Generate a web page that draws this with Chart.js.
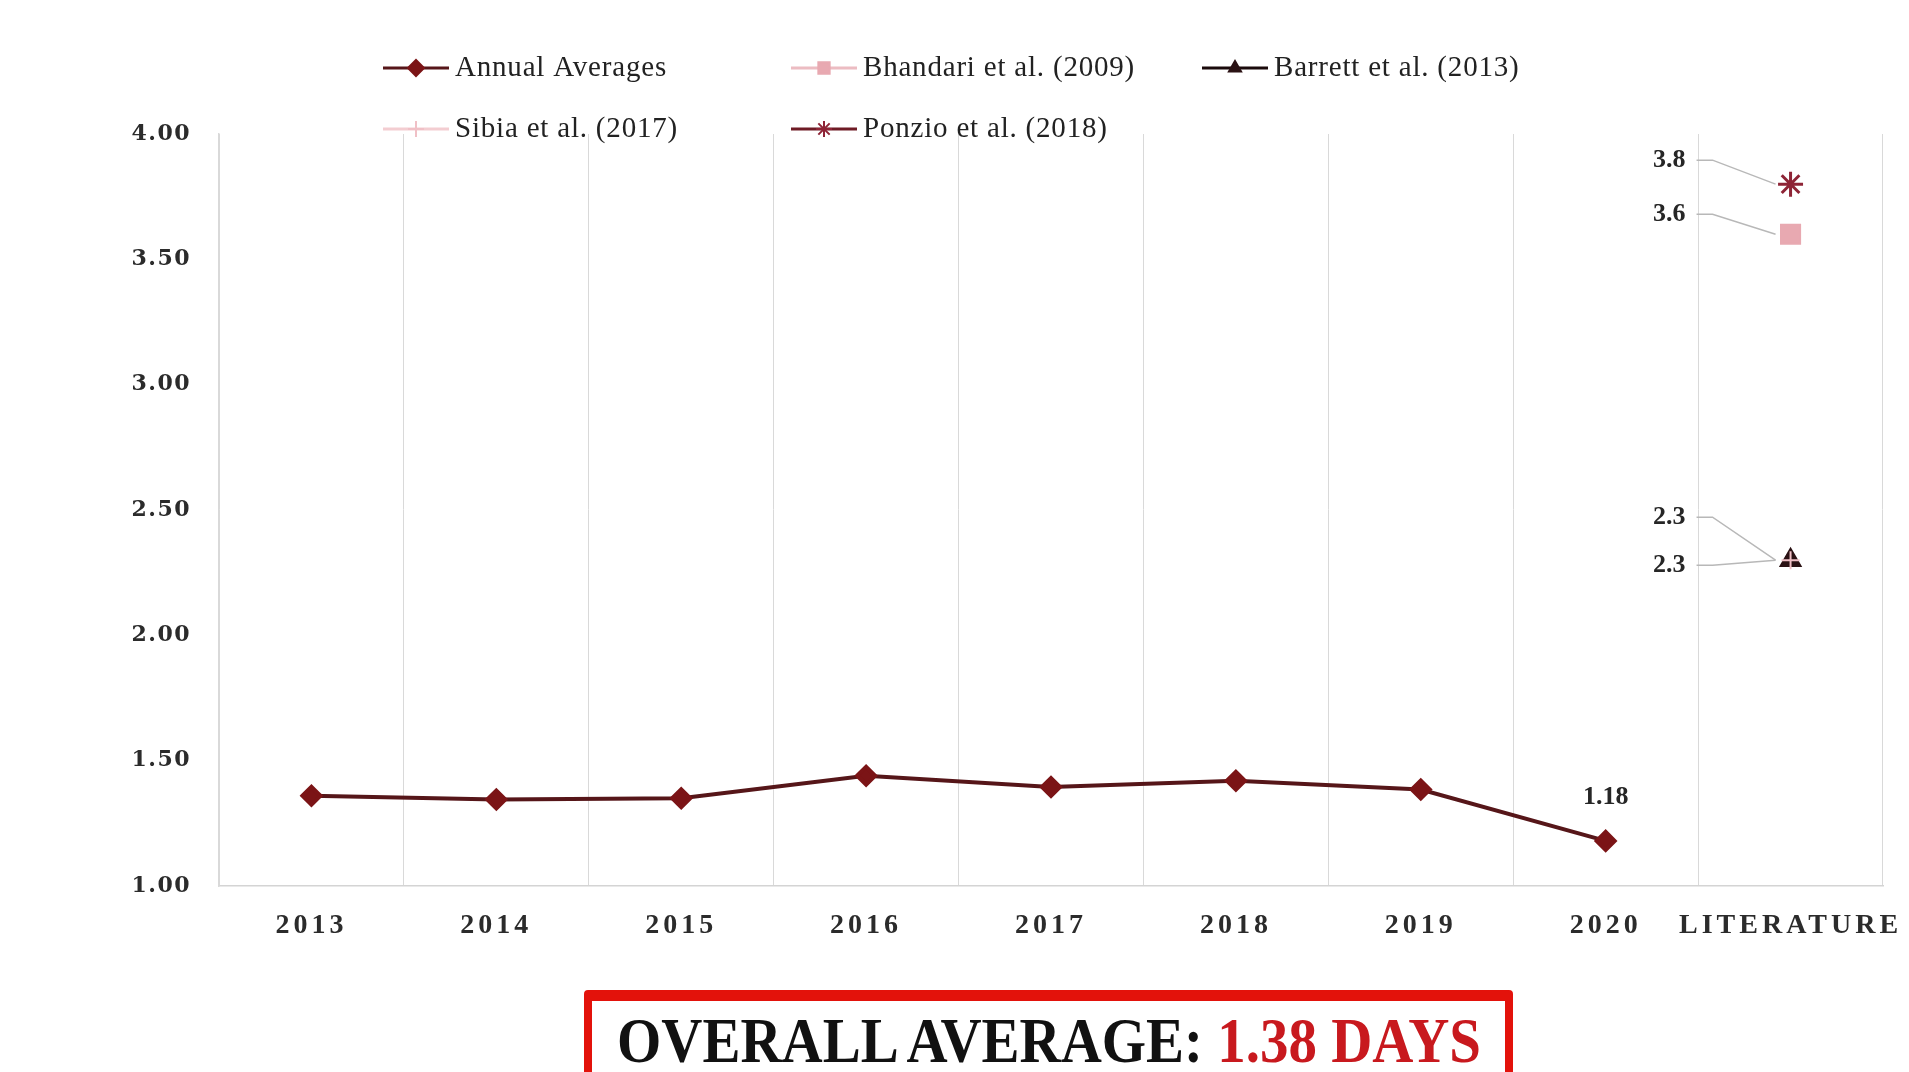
<!DOCTYPE html>
<html>
<head>
<meta charset="utf-8">
<script src="https://cdn.jsdelivr.net/npm/chart.js@4.4.1/dist/chart.umd.min.js"></script>
<style>
html, body { margin: 0; padding: 0; background: #fff; overflow: hidden; }
#wrap { position: relative; width: 1909px; height: 1072px; }
#avgBox {
    position: absolute; left: 584px; top: 990px; width: 929px; height: 110px;
    box-sizing: border-box; border: 8px solid #e3120b; border-top-width: 11px; border-radius: 4px;
}
#avgBox .txt {
    position: absolute; left: 50%; top: 8px; white-space: nowrap;
    transform: translateX(-50%) scaleX(0.89); transform-origin: center top;
    font-family: "Liberation Serif", serif; font-weight: bold; font-size: 64px; line-height: 1;
    color: #111;
}
#avgBox .txt span { color: #c8191e; }
</style>
</head>
<body>
<div id="wrap">
    <canvas id="daysChart" width="1909" height="1072"></canvas>
    <div id="avgBox"><div class="txt">OVERALL AVERAGE: <span>1.38 DAYS</span></div></div>
</div>
<script>
const categories = ['2013', '2014', '2015', '2016', '2017', '2018', '2019', '2020', 'LITERATURE'];
const annualAverages = [1.36, 1.345, 1.35, 1.44, 1.395, 1.42, 1.385, 1.18, null];
const literatureNames = ['Bhandari et al. (2009)', 'Barrett et al. (2013)', 'Sibia et al. (2017)', 'Ponzio et al. (2018)'];
const literatureValues = [3.6, 2.3, 2.3, 3.8];
const yTicks = [1.0, 1.5, 2.0, 2.5, 3.0, 3.5, 4.0];

// marker look for each literature series
const litStyles = [
    { color: '#e8a9b1', line: '#ecbcc2', pointStyle: 'rect', radius: 13.5, legendRadius: 8, width: 2, order: 0 },
    { color: '#2b1214', line: '#1a0a0b', pointStyle: 'triangle', radius: 11.5, legendRadius: 7, width: 2, order: 0 },
    { color: '#f0c0c6', line: '#f3cdd1', pointStyle: 'cross', radius: 9, legendRadius: 8, width: 2, order: -1 },
    { color: '#8e2436', line: '#6e1b25', pointStyle: 'star', radius: 12.5, legendRadius: 8, width: 3, order: 0 }
];
// where the value label sits relative to its point (dy only)
const labelShift = [-20, -43, 5, -24];

const litIndex = categories.length - 1;

const datasets = [{
    label: 'Annual Averages',
    data: annualAverages,
    borderColor: '#561619',
    backgroundColor: '#7b1416',
    pointBackgroundColor: '#7b1416',
    pointBorderColor: '#7b1416',
    pointStyle: 'rectRot',
    pointRadius: 9,
    pointHoverRadius: 9,
    borderWidth: 4,
    legendRadius: 8,
    lastLabel: true
}];

literatureNames.forEach((name, i) => {
    const s = litStyles[i];
    datasets.push({
        label: name,
        data: categories.map((c, j) => j === litIndex ? literatureValues[i] : null),
        borderColor: s.line,
        backgroundColor: s.color,
        pointBackgroundColor: s.color,
        pointBorderColor: s.color,
        pointStyle: s.pointStyle,
        pointRadius: s.radius,
        pointHoverRadius: s.radius,
        pointBorderWidth: s.width,
        showLine: false,
        borderWidth: 3,
        order: s.order,
        legendRadius: s.legendRadius,
        leaderDy: labelShift[i]
    });
});

const tickSpacing = {
    id: 'tickSpacing',
    beforeDraw(chart) {
        [['x', '4px'], ['y', '1.5px']].forEach(([id, sp]) => {
            const scale = chart.scales[id];
            if (!scale || scale._spaced) return;
            const orig = scale.drawLabels;
            scale.drawLabels = function (area) {
                this.ctx.letterSpacing = sp;
                orig.call(this, area);
                this.ctx.letterSpacing = '0px';
            };
            scale._spaced = true;
        });
    }
};

const valueLabels = {
    id: 'valueLabels',
    afterDatasetsDraw(chart) {
        const ctx = chart.ctx;
        ctx.save();
        ctx.font = 'bold 26px "Liberation Serif"';
        ctx.fillStyle = '#262626';
        ctx.textBaseline = 'middle';
        chart.data.datasets.forEach((ds, i) => {
            const meta = chart.getDatasetMeta(i);
            ds.data.forEach((v, j) => {
                if (v == null) return;
                const pt = meta.data[j];
                if (ds.lastLabel && j === litIndex - 1) {
                    ctx.textAlign = 'center';
                    ctx.fillText(v.toFixed(2), pt.x, pt.y - 44);
                }
                if (ds.leaderDy !== undefined) {
                    const ly = pt.y + ds.leaderDy;
                    ctx.textAlign = 'right';
                    ctx.fillText(v.toFixed(1), pt.x - 105, ly);
                    ctx.strokeStyle = '#b8b8b8';
                    ctx.lineWidth = 1.5;
                    ctx.beginPath();
                    ctx.moveTo(pt.x - 94, ly);
                    ctx.lineTo(pt.x - 78, ly);
                    ctx.lineTo(pt.x - 15, pt.y);
                    ctx.stroke();
                }
            });
        });
        ctx.restore();
    }
};

const seriesLegend = {
    id: 'seriesLegend',
    afterDraw(chart) {
        const ctx = chart.ctx;
        const colX = [383, 791, 1202];
        const rowY = [68, 129];
        ctx.save();
        ctx.font = '29px "Liberation Serif"';
        ctx.letterSpacing = '0.8px';
        ctx.textBaseline = 'middle';
        ctx.textAlign = 'left';
        chart.data.datasets.forEach((ds, i) => {
            const x = colX[i % 3];
            const y = rowY[Math.floor(i / 3)];
            ctx.strokeStyle = ds.borderColor;
            ctx.lineWidth = 3;
            ctx.beginPath();
            ctx.moveTo(x, y);
            ctx.lineTo(x + 66, y);
            ctx.stroke();
            ctx.fillStyle = ds.pointBackgroundColor;
            ctx.strokeStyle = ds.pointBorderColor;
            ctx.lineWidth = 2;
            Chart.helpers.drawPoint(ctx, {
                pointStyle: ds.pointStyle, rotation: 0, radius: ds.legendRadius, borderWidth: 2
            }, x + 33, y);
            ctx.fillStyle = '#222';
            ctx.fillText(ds.label, x + 72, y);
        });
        ctx.restore();
    }
};

new Chart(document.getElementById('daysChart'), {
    type: 'line',
    data: { labels: categories, datasets: datasets },
    plugins: [tickSpacing, valueLabels, seriesLegend],
    options: {
        responsive: false,
        animation: false,
        spanGaps: false,
        layout: { padding: { top: 134, right: 26, left: 0, bottom: 0 } },
        plugins: { legend: { display: false }, tooltip: { enabled: false } },
        scales: {
            x: {
                offset: true,
                grid: { offset: true, color: '#d9d9d9', lineWidth: 1, drawTicks: false },
                border: { display: true, color: '#d4d4d4', width: 1.5 },
                ticks: {
                    color: '#2b2b2b', padding: 23, maxRotation: 0, autoSkip: false,
                    font: { family: 'Liberation Serif', size: 28, weight: 'bold' }
                },
                afterFit(scale) { scale.height = 186; }
            },
            y: {
                min: 1, max: 4,
                afterBuildTicks(scale) { scale.ticks = yTicks.map(v => ({ value: v })); },
                grid: { drawOnChartArea: false, drawTicks: false },
                border: { display: true, color: '#d9d9d9', width: 1.5 },
                ticks: {
                    color: '#2b2b2b', padding: 28,
                    font: { family: 'DejaVu Serif', size: 22, weight: 'bold' },
                    callback: v => Number(v).toFixed(2)
                },
                afterFit(scale) { scale.width = 219; }
            }
        }
    }
});
</script>
</body>
</html>
